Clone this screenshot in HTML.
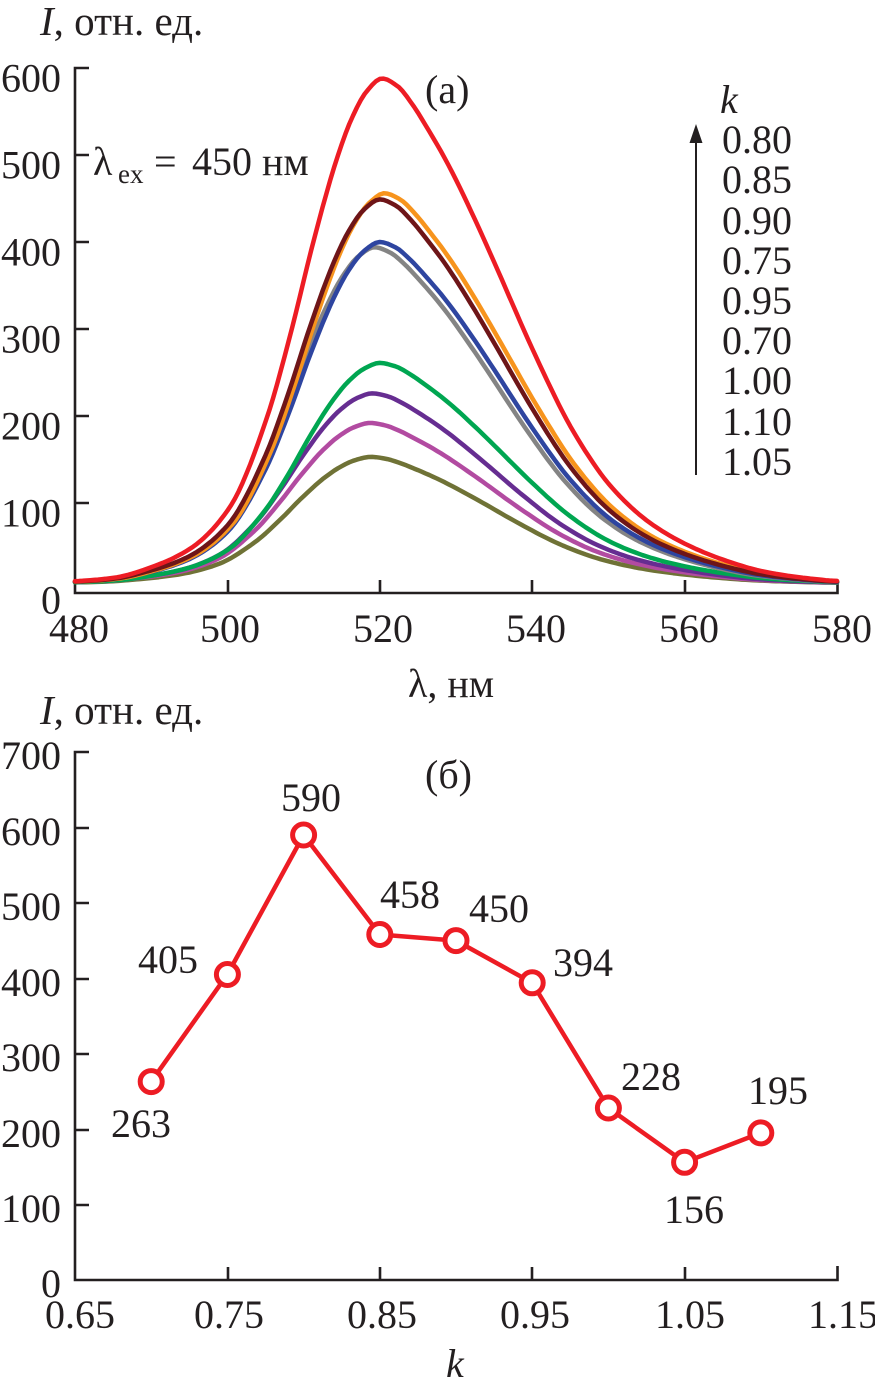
<!DOCTYPE html>
<html><head><meta charset="utf-8">
<style>
html,body{margin:0;padding:0;background:#fff;}
svg{display:block;font-family:"Liberation Serif","DejaVu Serif",serif;}
svg text{font-family:"Liberation Serif","DejaVu Serif",serif;fill:#231f20;}
</style></head>
<body>
<svg id="s" width="875" height="1390" viewBox="0 0 875 1390" xmlns="http://www.w3.org/2000/svg" font-family="Liberation Serif, DejaVu Serif, serif">
<rect width="875" height="1390" fill="#fff"/>
<!-- ===== TOP CHART ===== -->
<g stroke="#231f20" stroke-width="2.6" fill="none">
  <path d="M89,68 H75 V593 H837.5 V580"/>
  <path d="M75,155 H89 M75,242 H89 M75,329 H89 M75,416 H89 M75,503 H89"/>
  <path d="M228,593 V580 M380,593 V580 M532,593 V580 M685,593 V580"/>
</g>
<g id="curves"></g>
<g font-size="40" text-anchor="end">
  <text x="61" y="91.5">600</text>
  <text x="61" y="178.5">500</text>
  <text x="61" y="265.5">400</text>
  <text x="61" y="352.5">300</text>
  <text x="61" y="439.5">200</text>
  <text x="61" y="526.5">100</text>
  <text x="61" y="613.5">0</text>
</g>
<g font-size="40" text-anchor="middle">
  <text x="79" y="642">480</text>
  <text x="230" y="642">500</text>
  <text x="383" y="642">520</text>
  <text x="536" y="642">540</text>
  <text x="689" y="642">560</text>
  <text x="842" y="642">580</text>
</g>
<text x="40" y="35" font-size="41"><tspan font-style="italic">I</tspan>, отн. ед.</text>
<text x="408" y="697" font-size="40">λ, нм</text>
<text x="425" y="103" font-size="40">(а)</text>
<text x="93" y="175" font-size="40">λ</text>
<text x="118" y="183" font-size="27">ex</text>
<text x="154" y="175" font-size="40">=</text>
<text x="192" y="175" font-size="40">450 нм</text>
<!-- legend -->
<text x="720" y="113" font-size="40" font-style="italic">k</text>
<line x1="696" y1="475" x2="696" y2="138" stroke="#231f20" stroke-width="2"/>
<polygon points="696,124 689.5,143 702.5,143" fill="#231f20"/>
<g font-size="40">
  <text x="722" y="153">0.80</text>
  <text x="722" y="193">0.85</text>
  <text x="722" y="234">0.90</text>
  <text x="722" y="274">0.75</text>
  <text x="722" y="314">0.95</text>
  <text x="722" y="354">0.70</text>
  <text x="722" y="394">1.00</text>
  <text x="722" y="435">1.10</text>
  <text x="722" y="475">1.05</text>
</g>

<!-- ===== BOTTOM CHART ===== -->
<g stroke="#231f20" stroke-width="2.6" fill="none">
  <path d="M89,752 H75 V1280 H837.5 V1266"/>
  <path d="M75,828 H89 M75,903 H89 M75,979 H89 M75,1054 H89 M75,1130 H89 M75,1205 H89"/>
  <path d="M228,1280 V1267 M380,1280 V1267 M532,1280 V1267 M685,1280 V1267"/>
</g>
<g font-size="40" text-anchor="end">
  <text x="61" y="769">700</text>
  <text x="61" y="845">600</text>
  <text x="61" y="920">500</text>
  <text x="61" y="996">400</text>
  <text x="61" y="1071">300</text>
  <text x="61" y="1147">200</text>
  <text x="61" y="1222">100</text>
  <text x="61" y="1297">0</text>
</g>
<g font-size="40" text-anchor="middle">
  <text x="80" y="1328">0.65</text>
  <text x="229" y="1328">0.75</text>
  <text x="382" y="1328">0.85</text>
  <text x="535" y="1328">0.95</text>
  <text x="690" y="1328">1.05</text>
  <text x="843" y="1328">1.15</text>
</g>
<text x="40" y="724" font-size="41"><tspan font-style="italic">I</tspan>, отн. ед.</text>
<text x="446" y="1377" font-size="40" font-style="italic">k</text>
<text x="425" y="788" font-size="40">(б)</text>

<polyline fill="none" stroke="#ed1c24" stroke-width="4.5" stroke-linejoin="round"
 points="151.2,1081.6 227.4,974.5 303.6,835 379.8,934.5 456,940.6 532.2,982.8 608.4,1108 684.6,1162.3 760.8,1132.9"/>
<g fill="#fff" stroke="#ed1c24" stroke-width="5">
  <circle cx="151.2" cy="1081.6" r="11"/>
  <circle cx="227.4" cy="974.5" r="11"/>
  <circle cx="303.6" cy="835" r="11"/>
  <circle cx="379.8" cy="934.5" r="11"/>
  <circle cx="456" cy="940.6" r="11"/>
  <circle cx="532.2" cy="982.8" r="11"/>
  <circle cx="608.4" cy="1108" r="11"/>
  <circle cx="684.6" cy="1162.3" r="11"/>
  <circle cx="760.8" cy="1132.9" r="11"/>
</g>
<g font-size="40" text-anchor="middle">
  <text x="141" y="1137">263</text>
  <text x="168" y="973">405</text>
  <text x="311" y="811">590</text>
  <text x="410" y="908">458</text>
  <text x="499" y="922">450</text>
  <text x="583" y="976">394</text>
  <text x="651" y="1090">228</text>
  <text x="778" y="1104">195</text>
  <text x="694" y="1223">156</text>
</g>
</svg>
<script>
(function(){
var T=[[-50,0],[-40,0.004],[-35,0.011],[-30,0.033],[-25,0.07],[-20,0.15],[-15,0.333],[-12,0.495],[-9,0.677],[-6,0.838],[-4,0.92],[-2,0.975],[0,1],[2,0.985],[4,0.948],[6,0.9],[8,0.848],[10,0.79],[12.5,0.71],[15,0.626],[20,0.455],[25,0.303],[30,0.192],[35,0.121],[40,0.076],[45,0.045],[50,0.023],[55,0.011],[60,0.004],[75,0]];
var n=T.length,xs=[],ys=[],m=[],dl=[];
for(var i=0;i<n;i++){xs.push(T[i][0]);ys.push(T[i][1]);}
for(i=0;i<n-1;i++){dl.push((ys[i+1]-ys[i])/(xs[i+1]-xs[i]));}
m[0]=dl[0];m[n-1]=dl[n-2];
for(i=1;i<n-1;i++){ if(dl[i-1]*dl[i]<=0){m[i]=0;} else {var w1=2*(xs[i+1]-xs[i])+(xs[i]-xs[i-1]),w2=(xs[i+1]-xs[i])+2*(xs[i]-xs[i-1]); m[i]=(w1+w2)/(w1/dl[i-1]+w2/dl[i]);} }
function g(d){
  if(d<=xs[0])return ys[0]; if(d>=xs[n-1])return ys[n-1];
  var k=0; while(d>xs[k+1])k++;
  var h=xs[k+1]-xs[k],t=(d-xs[k])/h,t2=t*t,t3=t2*t;
  return (2*t3-3*t2+1)*ys[k]+(t3-2*t2+t)*h*m[k]+(-2*t3+3*t2)*ys[k+1]+(t3-t2)*h*m[k+1];
}
var C=[["#6f7236",153,518.8],["#b24ba1",192,518.7],["#662d91",226,519.0],["#00a651",261,520.0],["#848484",394,519.3],["#2e45a0",400,520.0],["#f7941d",456,520.6],["#6e1518",449,520.0],["#ed1c24",588,520.3]];
var B=8,ns="http://www.w3.org/2000/svg",grp=document.getElementById("curves");
C.forEach(function(c){
  var d="";
  for(var L=480;L<=580.001;L+=0.5){
    var v=B+(c[1]-B)*g(L-c[2]);
    var x=75+(L-480)*7.62,y=590-v*0.87;
    d+=(d?" L":"M")+x.toFixed(1)+","+y.toFixed(1);
  }
  var p=document.createElementNS(ns,"path");
  p.setAttribute("d",d);p.setAttribute("fill","none");p.setAttribute("stroke",c[0]);
  p.setAttribute("stroke-width","4.5");p.setAttribute("stroke-linejoin","round");p.setAttribute("stroke-linecap","round");
  grp.appendChild(p);
});
})();
</script>
</body></html>
